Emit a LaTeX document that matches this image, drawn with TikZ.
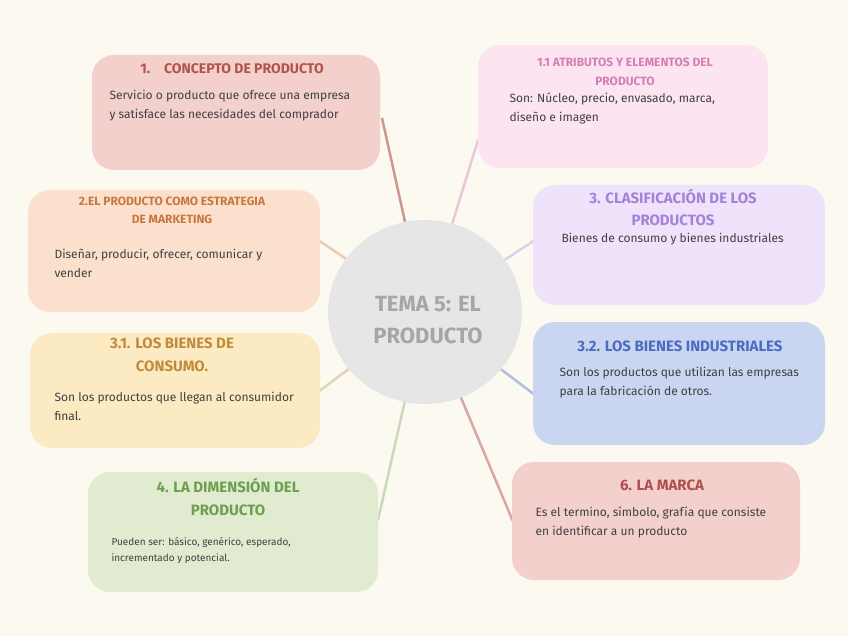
\documentclass[tikz,border=0pt]{standalone}
\usepackage{fontspec}
\setmainfont{Fira Sans}
\usetikzlibrary{shapes.geometric}
\definecolor{bg}{HTML}{FCF9F1}
\definecolor{cgray}{HTML}{E6E6E6}
\definecolor{ctext}{HTML}{A6A6A6}
\definecolor{fA}{HTML}{F4D0CC}\definecolor{tA}{HTML}{B0544C}
\definecolor{fB}{HTML}{FCE4F0}\definecolor{tB}{HTML}{D47FB4}
\definecolor{fC}{HTML}{FBE1CD}\definecolor{tC}{HTML}{C8783E}
\definecolor{fD}{HTML}{EFE2FB}\definecolor{tD}{HTML}{A383D6}
\definecolor{fE}{HTML}{FCEBC2}\definecolor{tE}{HTML}{BE8C3C}
\definecolor{fF}{HTML}{C9D5F1}\definecolor{tF}{HTML}{4D6CC0}
\definecolor{fG}{HTML}{E0EBD0}\definecolor{tG}{HTML}{6E9E4E}
\definecolor{fH}{HTML}{F4D0CC}\definecolor{tH}{HTML}{B04E4E}
\tikzset{
 box/.style={fill=#1, rounded corners=22pt, inner sep=0pt},
 ttl/.style={font=\fontsize{14}{18}\selectfont\bfseries, align=center, text=#1},
 bod/.style={font=\fontsize{12}{19}\selectfont, align=left, anchor=north west, text=black!75},
 con/.style={line width=2.5pt, draw=#1, opacity=0.6},
}
\begin{document}
\begin{tikzpicture}[x=1pt,y=-1pt]
\fill[bg] (0,0) rectangle (848,636);
\useasboundingbox (0,0) rectangle (848,636);
\node[ellipse, fill=cgray, minimum width=194pt, minimum height=184pt] (c) at (425,312) {};
\coordinate (e1) at (382,118); \coordinate (e11) at (478,140);
\coordinate (e2) at (318,240); \coordinate (e3) at (535,240);
\coordinate (e31) at (318,392); \coordinate (e32) at (535,395);
\coordinate (e4) at (378,520); \coordinate (e6) at (525,550);
\draw[con=tA] (c) -- (e1); \draw[con=tB!70] (c) -- (e11);
\draw[con=tC!60] (c) -- (e2); \draw[con=tD!60] (c) -- (e3);
\draw[con=tE!60] (c) -- (e31); \draw[con=tF!70] (c) -- (e32);
\draw[con=tG!60] (c) -- (e4); \draw[con=tH!80] (c) -- (e6);
\node[ttl=ctext, font=\fontsize{22}{32}\selectfont\bfseries] (ct) at (428,320) {TEMA 5: EL\\PRODUCTO};
% boxes
\fill[box=fA] (92,55) rectangle (380,170);
\fill[box=fB] (478,45) rectangle (768,168);
\fill[box=fC] (28,190) rectangle (320,312);
\fill[box=fD] (533,185) rectangle (825,305);
\fill[box=fE] (30,333) rectangle (320,448);
\fill[box=fF] (533,322) rectangle (825,445);
\fill[box=fG] (88,472) rectangle (378,592);
\fill[box=fH] (512,462) rectangle (800,580);
\node[ttl=tA] (t1) at (232,69) {1.\quad CONCEPTO DE PRODUCTO};
\node[bod] (b1) at (106,87) {Servicio o producto que ofrece una empresa\\y satisface las necesidades del comprador};
\node[ttl=tB, font=\fontsize{12}{19}\selectfont\bfseries] (t11) at (625,72) {1.1 ATRIBUTOS Y ELEMENTOS DEL\\PRODUCTO};
\node[bod] (b11) at (506,89) {Son: Núcleo, precio, envasado, marca,\\diseño e imagen};
\node[ttl=tC, font=\fontsize{12}{18}\selectfont\bfseries] (t2) at (172,210) {2.EL PRODUCTO COMO ESTRATEGIA\\DE MARKETING};
\node[bod] (b2) at (51,246) {Diseñar, producir, ofrecer, comunicar y\\vender};
\node[ttl=tD, font=\fontsize{15}{22}\selectfont\bfseries] (t3) at (673,207) {3. CLASIFICACIÓN DE LOS\\PRODUCTOS};
\node[bod] (b3) at (558,230) {Bienes de consumo y bienes industriales};
\node[ttl=tE, font=\fontsize{15}{23}\selectfont\bfseries] (t31) at (172,355) {3.1. LOS BIENES DE\\CONSUMO.};
\node[bod] (b31) at (51,389) {Son los productos que llegan al consumidor\\final.};
\node[ttl=tF, font=\fontsize{15}{22}\selectfont\bfseries] (t32) at (680,346) {3.2. LOS BIENES INDUSTRIALES};
\node[bod] (b32) at (556,364) {Son los productos que utilizan las empresas\\para la fabricación de otros.};
\node[ttl=tG, font=\fontsize{15}{23}\selectfont\bfseries] (t4) at (228,497) {4. LA DIMENSIÓN DEL\\PRODUCTO};
\node[bod, font=\fontsize{10}{16}\selectfont] (b4) at (108,534) {Pueden ser: básico, genérico, esperado,\\incrementado y potencial.};
\node[ttl=tH, font=\fontsize{15}{22}\selectfont\bfseries] (t6) at (662,485) {6. LA MARCA};
\node[bod] (b6) at (532,503) {Es el termino, símbolo, grafía que consiste\\en identificar a un producto};
\end{tikzpicture}
\end{document}
